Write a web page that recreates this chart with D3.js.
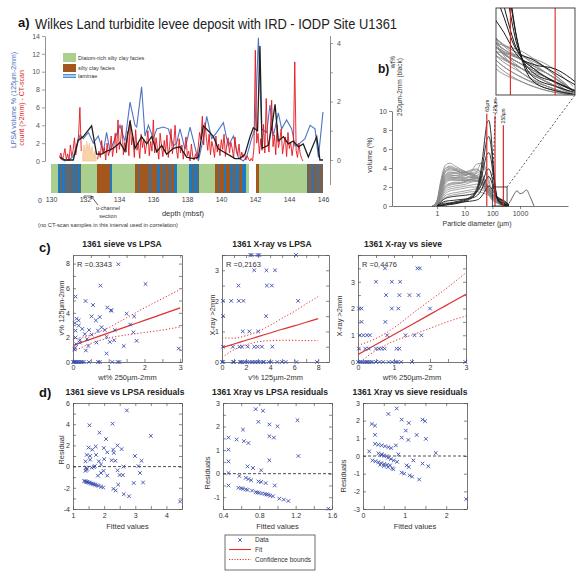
<!DOCTYPE html>
<html><head><meta charset="utf-8">
<script src="https://cdn.jsdelivr.net/npm/d3@7"></script>
<style>body{margin:0;background:#fff}svg{display:block;font-family:"Liberation Sans",Arial,Helvetica,sans-serif}</style>
</head><body><svg id="chart" width="587" height="573"></svg>
<script>
// ================= DATA =================
// ---- panel a: down-core series (depth in mbsf) ----
const blueDepth = [130.53,130.8,131.1,131.31,131.71,131.9,132.2,132.49,132.78,133.08,133.27,133.47,133.76,134.06,134.35,134.65,134.94,135.04,135.33,135.53,135.73,136.02,136.22,136.61,136.9,137.2,137.39,137.59,137.88,138.18,138.67,138.96,139.16,139.45,139.75,140.14,140.43,140.73,141.02,141.31,141.51,141.8,142.0,142.2,142.39,142.69,142.88,143.08,143.37,143.57,143.86,144.16,144.35,144.65,144.94,145.24,145.53,145.73,146.0];
const blueVal   = [0.3,0.0,0.2,0.5,2.9,2.5,3.2,2.0,2.8,1.0,3.2,1.1,2.5,4.0,2.2,6.6,4.0,3.8,8.3,2.8,4.0,2.5,3.6,3.8,3.6,1.7,2.0,3.6,1.3,3.8,0,2.5,5.0,2.5,3.2,4.3,1.7,2.8,0.4,0,0.5,2.5,3.6,13.8,3.6,3.2,6.3,2.8,5.4,3.6,4.6,3.6,1.7,2.0,2.5,4.0,3.6,0.4,5.5];

const blackDepth = [130.53,130.82,131.31,131.6,131.9,132.39,132.68,132.98,133.27,133.67,134.06,134.35,134.65,134.94,135.33,135.63,135.92,136.22,136.51,136.8,137.2,137.59,137.98,138.37,138.67,138.96,139.25,139.55,139.84,140.14,140.53,140.82,141.12,141.41,141.71,141.9,142.15,142.29,142.42,142.78,142.98,143.18,143.37,143.67,143.96,144.25,144.55,144.84,145.14,145.33,145.63,145.82,146.0];
const blackVal   = [0.1,0,0,0.67,0.8,1.17,0.2,0.2,0.3,0.4,0.6,0.3,1.33,0.4,0.8,0.55,0.8,0.28,0.5,0.2,0.4,0.45,0.1,0.05,0.1,1.17,1.0,0.8,0.38,0.28,0.15,0.05,0.05,0.2,0.8,1.1,1.0,3.9,0.4,0.5,1.1,1.9,0.65,0.8,0.55,0.65,0.45,0.55,0.1,0.38,0.8,0,0];

// CT-scan counts, sampled every 0.08 m
const ctStep = 0.08;
const redAStart = 130.5;
const redAVal = [0.4,0.9,0.1,0.6,1.4,0.2,0.8,0,1.8,0.5,1.2,2.6,0.7,1.9,2.8,6.0,1.1];
const peachStart = 131.86;   // u-channel section (not used in correlation)
const peachVal = [0.6,1.8,0.9,2.2,1.2,2.0,0.8,1.6,0.5,1.1,0.3];
const redBStart = 132.74;
const redBVal = [
 0.2,1.1,0.4,2.3,0.8,1.5,0.1,2.0,0.6,1.2,
 2.8,0.5,1.7,3.1,0.9,4.6,1.3,2.4,4.0,0.7,
 2.1,1.0,3.3,0.6,4.6,1.8,2.7,0.4,3.5,1.2,
 2.0,0.3,3.0,1.5,2.4,0.8,1.9,3.4,0.6,2.2,
 1.1,4.6,0.9,2.6,1.4,0.2,3.1,1.7,0.5,2.3,
 1.0,2.9,0.4,1.6,3.6,0.8,2.0,4.0,1.2,0.3,
 2.5,0.9,1.8,0.2,1.3,2.7,0.6,1.1,0.0,1.9,
 0.5,0.1,0.8,0.2,1.6,3.2,2.4,5.0,1.8,4.3,
 2.6,1.2,3.0,0.7,2.2,1.5,0.4,2.8,1.0,1.9,
 0.6,2.4,1.3,3.0,0.5,1.8,2.6,0.9,2.1,1.4,
 0.3,2.7,1.1,0.6,1.9,0.2,1.0,0.4,0.8,0.1,
 0.6,0.2,0.0,0.3,0.0,1.5,12.4,2.0,3.1,0.8,
 2.5,1.2,4.1,0.9,7.0,2.2,1.0,3.4,6.8,1.6,
 2.9,0.7,4.0,1.5,2.3,3.6,0.8,1.9,2.7,0.5,
 3.2,1.4,2.1,0.6,1.7,11.1,1.2,0.4,2.0,0.8,
 0.3,0.0];

// lithology (top depth of each unit, facies code)
const lithoTop = [130.00,130.39,130.51,130.61,130.75,130.84,130.94,131.04,131.14,131.29,131.43,131.57,131.69,131.78,132.71,133.49,133.59,134.96,135.16,135.25,135.75,135.88,136.24,136.39,136.59,136.73,136.92,137.06,137.22,137.41,138.14,138.29,138.39,138.59,138.73,139.67,139.86,139.96,140.16,140.31,140.55,140.71,140.84,141.04,141.24,141.49,141.63,142.08,142.22,145.06,145.16,145.29,145.39,145.55,145.65,145.75,145.88];
const lithoFacies = ["G","L","B","L","K","L","B","L","K","L","K","L","K","G","B","L","G","B","L","B","L","B","L","B","L","B","L","B","L","G","L","K","L","K","G","B","L","B","L","B","L","B","L","B","L","G","W","B","G","K","B","L","K","B","L","B","K"];
const lithoBottom = 146.0;
const depthTicks = [130,132,134,136,138,140,142,144,146];

// ---- panel b: grain-size distributions ----
const grainGray = [0.7,1,1.4,2,3,4.5,7,11,17,27,42,65,100,150,220,330];
const grayCurves = [
 [0,0.6,2.8,4.3,4.5,4.2,3.9,3.6,3.3,3.0,2.4,1.5,0.7,0.3,0.1,0],
 [0,0.5,2.5,3.9,4.1,3.9,3.7,3.5,3.3,3.0,2.5,1.7,0.9,0.5,0.2,0],
 [0,0.4,2.2,3.5,3.8,3.7,3.6,3.5,3.4,3.2,2.7,1.9,1.0,0.6,0.3,0.05],
 [0,0.4,2.0,3.2,3.5,3.5,3.5,3.6,3.8,3.9,3.4,2.2,1.1,0.7,0.4,0.1],
 [0,0.3,1.8,3.0,3.3,3.2,3.1,3.2,3.6,4.4,4.5,3.0,1.2,0.5,0.2,0],
 [0,0.3,1.6,2.8,3.1,3.0,2.9,2.9,3.0,3.0,2.7,2.0,1.2,0.8,0.4,0.1],
 [0,0.3,1.5,2.6,2.9,2.9,2.8,2.8,2.8,2.7,2.4,1.8,1.0,0.6,0.3,0],
 [0,0.2,1.3,2.3,2.7,2.7,2.7,2.7,2.8,2.9,2.6,1.9,1.1,0.7,0.5,0.1],
 [0,0.2,1.2,2.1,2.4,2.5,2.5,2.6,2.8,3.0,2.8,2.1,1.2,0.8,0.5,0.1],
 [0,0.2,1.0,1.9,2.2,2.3,2.4,2.6,2.9,3.6,4.6,3.5,1.3,0.6,0.3,0],
 [0,0.2,0.9,1.7,2.0,2.1,2.2,2.3,2.5,2.6,2.5,2.0,1.3,0.9,0.6,0.1],
 [0,0.1,0.8,1.5,1.8,1.9,2.0,2.1,2.2,2.3,2.2,1.8,1.1,0.7,0.4,0],
 [0,0.1,0.7,1.3,1.6,1.7,1.8,1.9,2.0,2.0,1.9,1.6,1.2,1.0,0.6,0.1],
 [0,0.3,2.4,3.7,4.0,3.8,3.5,3.2,3.0,2.7,2.2,1.4,0.6,0.3,0.1,0],
 [0,0.1,0.6,1.1,1.3,1.4,1.5,1.6,1.7,1.8,1.7,1.5,1.1,0.8,0.5,0.1],
 [0,0.4,2.1,3.3,3.6,3.5,3.3,3.3,3.5,3.6,3.2,2.3,1.3,0.9,0.5,0.1],
 [0,0.2,1.4,2.5,2.8,2.8,2.7,2.7,2.7,2.6,2.3,1.7,1.0,0.9,0.7,0.2],
 [0,0.3,1.7,2.9,3.2,3.2,3.2,3.3,3.4,3.4,3.0,2.2,1.3,0.8,0.4,0],
 [0,0.5,2.6,4.0,4.2,4.0,3.8,3.6,3.4,3.1,2.6,1.6,0.8,0.4,0.15,0],
 [0,0.35,1.9,3.1,3.4,3.4,3.4,3.5,3.7,3.8,3.3,2.1,1.0,0.6,0.3,0.05],
 [0,0.25,1.5,2.7,3.0,3.0,3.0,3.0,3.1,3.2,2.9,2.1,1.1,0.7,0.4,0.1],
 [0,0.15,1.1,2.0,2.3,2.4,2.4,2.5,2.6,2.7,2.5,1.9,1.1,0.8,0.5,0.1],
 [0,0.1,0.5,0.9,1.1,1.2,1.3,1.4,1.5,1.5,1.4,1.2,0.9,0.6,0.4,0.1],
 [0,0.45,2.3,3.6,3.9,3.8,3.6,3.4,3.2,2.9,2.4,1.6,0.8,0.4,0.2,0]
];
const grainBlack = [1,2,4,8,15,25,35,45,55,65,75,90,110,140,180,250,400];
const blackCurves = [
 [0,0.2,0.4,0.6,0.9,1.6,3.0,5.2,7.4,8.8,9.0,7.5,4.0,1.2,0.3,0.1,0],
 [0,0.1,0.3,0.5,0.8,1.4,2.6,4.3,6.0,7.1,7.3,6.3,3.6,1.2,0.4,0.2,0],
 [0,0.1,0.2,0.4,0.7,1.3,2.3,3.6,4.8,5.5,5.6,4.9,3.0,1.1,0.5,0.3,0],
 [0,0.8,1.0,1.1,1.2,1.4,1.9,2.6,3.3,3.8,3.9,3.4,2.2,1.0,0.6,0.3,0],
 [0,0.5,0.6,0.7,0.8,1.0,1.4,2.0,2.6,3.0,3.1,2.7,1.9,1.0,0.8,0.5,0.1],
 [0,0.3,0.3,0.4,0.5,0.6,0.8,1.2,1.6,2.0,2.1,1.9,1.5,0.9,0.7,0.6,0.1]
];
const grainCoarse = [330,450,600,780,1000,1300,1700,2300,3200];
const coarseCurve = [0,0.5,1.2,1.6,1.3,1.4,1.7,1.0,0];
const sieveLimits = [63,125,250];
const sieveLabels = ["63µm","125µm","250µm"];
const sieveTop = [9.7,9.5,8.5];

// ---- panel c: regressions ----
const c1X = [1.27,0.77,2.03,0.07,0.35,0.56,0.96,1.06,1.08,1.5,1.71,0.52,0.75,0.1,0.16,0.64,0.16,0.05,1.6,0.8,0.26,0.45,0.89,0.07,0.7,1.17,1.69,0.33,0.52,0.94,0.07,0.19,0.39,1.15,1.03,1.78,0.19,0.66,0.09,0.43,1.42,0.06,0.04,0.36,0.94,2.96,0,0.03,0.06,0.09,0.12,0.15,0.18,0.22,0.26,0.3,0.45,0.7,0.75,1.1,1.25,1.3];
const c1Y = [7.95,6.21,6.34,5.32,4.96,4.63,4.43,4.21,4.16,3.93,3.71,3.71,3.66,3.52,3.38,3.38,2.96,3.16,3.05,2.83,2.69,2.6,2.6,2.55,2.55,2.6,2.41,2.27,2.22,2.05,1.99,1.77,1.86,1.77,1.63,1.72,1.58,1.58,1.44,1.3,1.3,1.16,1.02,0.94,0.69,1.1,0,0,0,0,0,0,0,0,0,0,0,0,0,0,0,0];
const c1FitX = [0,0.5,1,1.5,2,2.5,3];
const c1Fit = [1.35,1.86,2.37,2.88,3.38,3.89,4.40];
const c1Up  = [1.85,2.2,2.8,3.6,4.4,5.15,5.9];
const c1Lo  = [0.85,1.5,1.95,2.2,2.4,2.6,2.85];

const c2X = [2.36,2.47,2.96,3.1,6.16,2.68,3.7,4.41,1.37,3.73,4.14,0.08,0.77,1.4,1.78,6.33,0.08,3.67,1.73,2.27,3.01,0.08,0.9,1.45,1.67,2.14,2.68,2.96,3.32,4.19,0,0.1,0.9,1.0,1.5,1.6,1.7,1.9,2.1,2.3,2.5,2.7,2.8,3.0,3.2,3.4,3.5,3.9,4.1,4.6,5.0,5.3,6.2,7.9];
const c2Y = [3.5,3.5,3.5,3.5,3.5,3,3,3,2.5,2.5,2.5,2,2,2,2,2,1.5,1.5,1,1,1,0.5,0.5,0.5,0.5,0.5,0.5,0.5,0.5,0.5,0,0,0,0,0,0,0,0,0,0,0,0,0,0,0,0,0,0,0,0,0,0,0,0];
const c2FitX = [0,1,2,3,4,5,6,7,8];
const c2Fit = [0.47,0.59,0.71,0.83,0.95,1.07,1.18,1.30,1.42];
const c2Up  = [0.79,0.78,0.86,1.0,1.2,1.43,1.65,1.9,2.14];
const c2Lo  = [0.15,0.4,0.56,0.66,0.7,0.71,0.71,0.7,0.7];

const c3X = [0.75,1.65,1.72,0.5,0.94,1.17,0.78,1.15,1.43,1.68,0.03,0.1,0.94,1.12,2.0,0.1,0.76,0.05,0.15,0.25,0.33,0.81,1.32,1.57,1.76,0.02,0.2,0.3,0.5,0.58,0.66,0.74,1.07,1.15,0,0.05,0.1,0.15,0.2,0.25,0.3,0.35,0.4,0.5,0.6,0.7,0.85,0.95,1.05,1.1,1.2,1.5,2.98];
const c3Y = [3.5,3.5,3.5,3,3,3,2.5,2.5,2.5,2.5,2,2,2,2,2,1.5,1.5,1,1,1,1,1,1,1,1,0.5,0.5,0.5,0.5,0.5,0.5,0.5,0.5,0.5,0,0,0,0,0,0,0,0,0,0,0,0,0,0,0,0,0,0,0];
const c3FitX = [0,0.5,1,1.5,2,2.5,3];
const c3Fit = [0.28,0.655,1.03,1.405,1.78,2.155,2.53];
const c3Up  = [0.62,0.88,1.28,1.8,2.3,2.8,3.34];
const c3Lo  = [-0.06,0.43,0.78,1.01,1.26,1.51,1.72];

// ---- panel d: residuals ----
const d1X = [2.73,1.53,2.27,1.85,3.5,2.06,2.43,1.5,1.73,1.62,1.99,2.29,2.56,2.1,2.31,1.44,1.55,1.74,2.99,3.2,2.24,2.36,2.0,1.83,1.55,1.4,1.9,1.7,1.42,1.36,1.39,1.42,1.45,1.48,1.52,1.56,1.6,1.64,1.68,1.72,1.77,1.82,1.9,1.97,1.45,1.4,1.43,1.6,1.67,1.9,1.98,2.1,1.8,2.43,2.5,2.6,2.3,2.37,2.45,2.95,2.63,2.8,3.25,3.15,3.1,2.62,4.44];
const d1Y = [5.3,3.9,4.05,3.2,2.9,2.6,2.0,1.8,1.9,1.6,1.75,1.6,1.65,1.35,1.3,1.1,1.0,1.1,1.0,0.55,0.6,0.55,0.7,0.5,0.65,0.5,0.2,0.05,-0.1,-1.36,-1.39,-1.42,-1.45,-1.48,-1.52,-1.56,-1.6,-1.64,-1.68,-1.72,-1.77,-1.82,-1.9,-1.97,-0.2,-0.4,-0.3,-0.1,-0.05,-0.6,-0.4,-0.85,-0.85,-0.35,-0.8,-0.8,-2.1,-2.25,-1.7,-1.55,-2.6,-2.8,-1.5,-0.6,0.05,0.0,-3.3];
const d2X = [0.76,0.84,0.79,0.62,0.91,1.0,1.22,0.46,0.55,0.63,0.68,0.91,0.96,0.46,0.46,0.91,1.23,0.67,0.73,0.82,0.46,0.58,0.65,0.68,0.71,0.79,0.82,0.87,0.97,0.46,0.57,0.6,0.62,0.65,0.67,0.72,0.76,0.78,0.8,0.83,0.86,0.88,0.9,0.92,0.95,1.02,1.07,1.12,1.56];
const d2Y = [2.74,2.67,2.2,1.87,2.09,2.01,2.27,1.53,1.45,1.38,1.3,1.59,1.53,1.02,0.52,0.57,0.75,0.31,0.24,0.14,0.03,-0.1,-0.18,-0.23,-0.28,-0.33,-0.35,-0.4,-0.5,-0.5,-0.6,-0.62,-0.64,-0.67,-0.69,-0.72,-0.78,-0.8,-0.82,-0.84,-0.86,-0.88,-0.9,-0.93,-0.96,-1.06,-1.1,-1.16,-1.49];
const d3X = [0.21,0.29,0.29,0.15,0.29,0.37,0.45,0.53,0.61,0.68,0.37,0.45,0.57,0.61,0.81,0.93,1.1,1.43,1.49,1.03,1.29,0.93,1.09,1.51,0.79,0.85,1.75,0.45,0.5,0.6,0.67,0.74,0.82,0.23,0.3,0.37,0.44,0.51,0.58,0.65,0.41,0.5,0.6,0.7,0.73,0.93,0.99,1.05,1.1,1.21,1.12,1.18,1.35,1.43,1.57,2.48];
const d3Y = [1.81,1.72,1.2,0.26,0.69,0.64,0.6,0.55,0.5,0.45,0.15,0.1,0.0,2.38,2.69,2.06,1.87,2.06,1.97,1.44,1.19,1.04,0.91,0.97,0.6,0.09,0.17,0.05,0.02,-0.1,-0.17,-0.25,-0.33,-0.25,-0.3,-0.35,-0.4,-0.45,-0.5,-0.53,-0.5,-0.57,-0.63,-0.7,-0.75,-0.94,-1.0,-0.53,-0.62,-0.25,-1.1,-1.17,-1.33,-0.43,-0.58,-2.44];

// ================= DRAWING =================
const svg = d3.select("#chart");
svg.append("rect").attr("width",587).attr("height",573).attr("fill","#fff");
const defs = svg.append("defs");

function txt(x,y,s,o={}){
  const t = svg.append("text").attr("x",x).attr("y",y).text(s)
    .attr("font-size",o.size||7).attr("fill",o.fill||"#222")
    .attr("text-anchor",o.anchor||"start");
  if(o.weight) t.attr("font-weight",o.weight);
  if(o.rot) t.attr("transform",`rotate(${o.rot},${x},${y})`);
  if(o.len) t.attr("textLength",o.len).attr("lengthAdjust","spacingAndGlyphs");
  return t;
}
function styleAxis(g,size,col,lineCol){
  g.attr("font-family",null).attr("font-size",null);
  g.selectAll("text").attr("font-size",size).attr("fill",col);
  g.selectAll("line").attr("stroke",lineCol||col).attr("stroke-width",0.7);
  g.selectAll("path.domain").attr("stroke",lineCol||col).attr("stroke-width",0.8);
}

// ---------- panel a ----------
const aX = d3.scaleLinear().domain([130,146]).range([51,323]);
const aYL = d3.scaleLinear().domain([0,14]).range([161,36]);
const aYR = d3.scaleLinear().domain([0,4]).range([160,43]);

txt(18,27,"a)",{size:13,weight:"bold",fill:"#111"});
txt(35,29,"Wilkes Land turbidite levee deposit with IRD  - IODP Site U1361",{size:14.5,fill:"#222",len:362});

const lithoColor = {G:"#a9d08f",B:"#a4571d",L:"#1f78c2",K:"#5c6770",W:"#ffffff"};
svg.append("g").selectAll("rect").data(lithoTop).join("rect")
  .attr("x",d=>aX(d)).attr("y",164)
  .attr("width",(d,i)=>aX(i<lithoTop.length-1?lithoTop[i+1]:lithoBottom)-aX(d))
  .attr("height",29).attr("fill",(d,i)=>lithoColor[lithoFacies[i]])
  .attr("shape-rendering","crispEdges");

const lineA = d3.line().x(d=>aX(d[0])).y(d=>aYL(d[1]));
const peachPts = peachVal.map((v,i)=>[peachStart+i*ctStep,v]);
svg.append("path").attr("d",d3.area().x(d=>aX(d[0])).y0(aYL(0)).y1(d=>aYL(d[1]))(peachPts))
  .attr("fill","#f8d2aa").attr("stroke","#f5c79a").attr("stroke-width",0.8);
svg.append("path").attr("d",lineA(blueDepth.map((d,i)=>[d,blueVal[i]])))
  .attr("fill","none").attr("stroke","#4f74c6").attr("stroke-width",1.1);
svg.append("path").attr("d",lineA(redAVal.map((v,i)=>[redAStart+i*ctStep,v])))
  .attr("fill","none").attr("stroke","#e5141c").attr("stroke-width",0.9);
svg.append("path").attr("d",lineA(redBVal.map((v,i)=>[redBStart+i*ctStep,v])))
  .attr("fill","none").attr("stroke","#e5141c").attr("stroke-width",0.9);
svg.append("path").attr("d",d3.line().x(d=>aX(d[0])).y(d=>aYR(d[1]))(blackDepth.map((d,i)=>[d,blackVal[i]])))
  .attr("fill","none").attr("stroke","#1e1e1e").attr("stroke-width",1.3);

const gAL = svg.append("g").attr("transform","translate(45,0)")
  .call(d3.axisLeft(aYL).tickValues([0,2,4,6,8,10,12,14]).tickSize(3).tickSizeOuter(0).tickPadding(2));
styleAxis(gAL,7,"#555","#777");
const gAR = svg.append("g").attr("transform","translate(330,0)")
  .call(d3.axisRight(aYR).tickValues([0,1,2,3,4]).tickFormat(d=>d%2?"":d).tickSize(3).tickSizeOuter(0).tickPadding(4));
styleAxis(gAR,7,"#555","#777");
svg.append("line").attr("x1",330.5).attr("x2",330.5).attr("y1",36).attr("y2",185).attr("stroke","#777").attr("stroke-width",0.8);
const gAB = svg.append("g").attr("transform","translate(0,194)")
  .call(d3.axisBottom(aX).tickValues(depthTicks).tickSize(0).tickPadding(3));
gAB.select("path.domain").remove();
styleAxis(gAB,7,"#444");
txt(40,203,"0",{size:7,fill:"#444",anchor:"middle"});
txt(183,216,"depth (mbsf)",{size:7.5,fill:"#333",anchor:"middle"});
txt(108,210,"u-channel",{size:5.5,fill:"#333",anchor:"middle"});
txt(108,218,"section",{size:5.5,fill:"#333",anchor:"middle"});
txt(38,227,"(no CT-scan samples in this interval used in correlation)",{size:5.2,fill:"#333",len:140});
svg.append("path").attr("d","M84,199V196H91").attr("fill","none").attr("stroke","#333").attr("stroke-width",0.7);
svg.append("path").attr("d","M98,205L91,196M91,196l0.6,3.2M91,196l3,1.2").attr("fill","none").attr("stroke","#333").attr("stroke-width",0.8);

// axis titles panel a
txt(16,100,"LPSA volume % (125µm-2mm)",{size:7,fill:"#4a6fc2",anchor:"middle",rot:-90});
txt(24,108,"count (>2mm) - CT-scan",{size:7,fill:"#e01a1a",anchor:"middle",rot:-90});
txt(395,62,"wt%",{size:6.5,fill:"#333",anchor:"middle",rot:-90});
txt(402,87,"250µm-2mm (black)",{size:6.5,fill:"#333",anchor:"middle",rot:-90});

// legend panel a
svg.append("rect").attr("x",63).attr("y",53).attr("width",13).attr("height",9).attr("fill","#a9d08f");
svg.append("rect").attr("x",63).attr("y",64).attr("width",13).attr("height",8).attr("fill","#a4571d");
svg.append("line").attr("x1",63).attr("x2",76).attr("y1",74.8).attr("y2",74.8).attr("stroke","#1f78c2").attr("stroke-width",1.2);
svg.append("line").attr("x1",63).attr("x2",76).attr("y1",77.2).attr("y2",77.2).attr("stroke","#1f78c2").attr("stroke-width",1.2);
txt(78,60,"Diatom-rich silty clay facies",{size:5.5,fill:"#333"});
txt(78,70,"silty clay facies",{size:5.5,fill:"#333"});
txt(78,78,"laminae",{size:5.5,fill:"#333"});

// ---------- panel b ----------
const bX = d3.scaleLog().domain([0.0237,54200]).range([392,568]);
const bY = d3.scaleLinear().domain([0,10]).range([206,111]);
txt(378,73,"b)",{size:12,weight:"bold",fill:"#111"});
const lineB = d3.line().x(d=>bX(d[0])).y(d=>bY(d[1])).curve(d3.curveMonotoneX);
const gB = svg.append("g");
gB.selectAll("path.g").data(grayCurves).join("path").attr("class","g")
  .attr("d",c=>lineB(c.map((v,i)=>[grainGray[i],v])))
  .attr("fill","none").attr("stroke","#8a8a8a").attr("stroke-width",0.8);
gB.append("path").attr("d",lineB(coarseCurve.map((v,i)=>[grainCoarse[i],v])))
  .attr("fill","none").attr("stroke","#555").attr("stroke-width",0.9);
gB.selectAll("path.k").data(blackCurves).join("path").attr("class","k")
  .attr("d",c=>lineB(c.map((v,i)=>[grainBlack[i],v])))
  .attr("fill","none").attr("stroke","#1a1a1a").attr("stroke-width",0.9);
sieveLimits.forEach((s,i)=>{
  gB.append("line").attr("x1",bX(s)).attr("x2",bX(s)).attr("y1",bY(0)).attr("y2",bY(sieveTop[i]))
    .attr("stroke","#d92626").attr("stroke-width",1.2);
  txt(bX(s)+1.8,bY(sieveTop[i])-2,sieveLabels[i],{size:4.8,fill:"#222",rot:-90});
});
const gBY = svg.append("g").attr("transform","translate(392,0)")
  .call(d3.axisLeft(bY).tickValues([0,2,4,6,8,10]).tickSize(3).tickSizeOuter(0).tickPadding(2));
styleAxis(gBY,7,"#444","#555");
const gBX = svg.append("g").attr("transform","translate(0,206)")
  .call(d3.axisBottom(bX).tickValues([1,10,100,1000]).tickFormat(d3.format("d")).tickSize(3).tickSizeOuter(0).tickPadding(2));
styleAxis(gBX,7,"#444","#555");
txt(372,155,"volume (%)",{size:7,fill:"#333",anchor:"middle",rot:-90});
txt(477,226,"Particle diameter (µm)",{size:7,fill:"#333",anchor:"middle"});

// zoom box + inset
const iX = d3.scaleLog().domain([100,340]).range([496,575]);
const iY = d3.scaleLinear().domain([0,2]).range([95,8]);
svg.append("rect").attr("x",bX(100)).attr("y",bY(2)).attr("width",bX(340)-bX(100)).attr("height",bY(0)-bY(2))
  .attr("fill","none").attr("stroke","#222").attr("stroke-width",0.8);
svg.append("line").attr("x1",bX(100)).attr("y1",bY(2)).attr("x2",iX(100)).attr("y2",iY(0))
  .attr("stroke","#333").attr("stroke-width",0.8).attr("stroke-dasharray","2,2");
svg.append("line").attr("x1",bX(340)).attr("y1",bY(2)).attr("x2",iX(340)).attr("y2",iY(0))
  .attr("stroke","#333").attr("stroke-width",0.8).attr("stroke-dasharray","2,2");
defs.append("clipPath").attr("id","inclip").append("rect")
  .attr("x",496).attr("y",8).attr("width",79).attr("height",87);
svg.append("rect").attr("x",496).attr("y",8).attr("width",79).attr("height",87).attr("fill","#fff");
const gI = svg.append("g").attr("clip-path","url(#inclip)");
const lineI = d3.line().x(d=>iX(d[0])).y(d=>iY(d[1])).curve(d3.curveMonotoneX);
gI.selectAll("path.g").data(grayCurves).join("path").attr("class","g")
  .attr("d",c=>lineI(c.map((v,i)=>[grainGray[i],v])))
  .attr("fill","none").attr("stroke","#8a8a8a").attr("stroke-width",0.9);
gI.selectAll("path.k").data(blackCurves).join("path").attr("class","k")
  .attr("d",c=>lineI(c.map((v,i)=>[grainBlack[i],v])))
  .attr("fill","none").attr("stroke","#1a1a1a").attr("stroke-width",1);
[125,250].forEach(s=>gI.append("line").attr("x1",iX(s)).attr("x2",iX(s)).attr("y1",8).attr("y2",95)
  .attr("stroke","#d92626").attr("stroke-width",1.1));
svg.append("rect").attr("x",496).attr("y",8).attr("width",79).attr("height",87)
  .attr("fill","none").attr("stroke","#333").attr("stroke-width",0.9);

// ---------- panels c / d ----------
const fmt = v => String(+v.toFixed(2));
function scatterPanel(cfg){
  const x = d3.scaleLinear().domain(cfg.xd).range([cfg.l,cfg.r]);
  const y = d3.scaleLinear().domain(cfg.yd).range([cfg.b,cfg.t]);
  const g = svg.append("g");
  const lab = arr => v => arr.some(a=>Math.abs(a-v)<1e-9) ? fmt(v) : "";
  const axes = [
    g.append("g").attr("transform",`translate(0,${cfg.b})`).call(d3.axisBottom(x).tickValues(cfg.xt).tickFormat(lab(cfg.xl)).tickSize(-3).tickSizeOuter(0).tickPadding(cfg.pad||3)),
    g.append("g").attr("transform",`translate(0,${cfg.t})`).call(d3.axisTop(x).tickValues(cfg.xt).tickFormat("").tickSize(-3).tickSizeOuter(0)),
    g.append("g").attr("transform",`translate(${cfg.l},0)`).call(d3.axisLeft(y).tickValues(cfg.yt).tickFormat(lab(cfg.yl)).tickSize(-3).tickSizeOuter(0).tickPadding(3)),
    g.append("g").attr("transform",`translate(${cfg.r},0)`).call(d3.axisRight(y).tickValues(cfg.yt).tickFormat("").tickSize(-3).tickSizeOuter(0))
  ];
  axes.forEach(a=>styleAxis(a,7,"#333","#555"));
  if(cfg.zero){
    g.append("line").attr("x1",cfg.l).attr("x2",cfg.r).attr("y1",y(0)).attr("y2",y(0))
      .attr("stroke","#222").attr("stroke-width",0.8).attr("stroke-dasharray","3,2");
  }
  if(cfg.fx){
    const ln = d3.line().x(d=>x(d[0])).y(d=>y(d[1])).curve(d3.curveMonotoneX);
    const clipId = "clip"+cfg.id;
    defs.append("clipPath").attr("id",clipId).append("rect")
      .attr("x",cfg.l).attr("y",cfg.t).attr("width",cfg.r-cfg.l).attr("height",cfg.b-cfg.t);
    const gc = g.append("g").attr("clip-path",`url(#${clipId})`);
    gc.append("path").attr("d",ln(cfg.fx.map((v,i)=>[v,cfg.fit[i]]))).attr("fill","none").attr("stroke","#e03030").attr("stroke-width",1.2);
    [cfg.up,cfg.lo].forEach(arr=>gc.append("path").attr("d",ln(cfg.fx.map((v,i)=>[v,arr[i]])))
      .attr("fill","none").attr("stroke","#e03030").attr("stroke-width",1).attr("stroke-dasharray","1.2,2"));
  }
  g.selectAll("path.pt").data(cfg.px.map((v,i)=>[v,cfg.py[i]])).join("path").attr("class","pt")
    .attr("d","M-1.8,-1.8L1.8,1.8M-1.8,1.8L1.8,-1.8")
    .attr("transform",d=>`translate(${x(d[0])},${y(d[1])})`)
    .attr("stroke","#3a4cae").attr("stroke-width",0.9).attr("fill","none");
  txt(cfg.tx,cfg.ty,cfg.title,{size:8.5,weight:"bold",fill:"#222",anchor:"middle"});
  txt((cfg.l+cfg.r)/2,cfg.xly,cfg.xlab,{size:7.5,fill:"#333",anchor:"middle"});
  txt(cfg.ylx,cfg.yly,cfg.ylab,{size:7.5,fill:"#333",anchor:"middle",rot:-90});
  if(cfg.r2) txt(cfg.l+4,cfg.t+12,cfg.r2,{size:7.5,fill:"#333"});
}

txt(39,252,"c)",{size:13,weight:"bold",fill:"#111"});
txt(39,397,"d)",{size:13,weight:"bold",fill:"#111"});

scatterPanel({id:"c1",l:73,r:182,t:255,b:362,xd:[0,3.05],yd:[0,8.7],
  xt:[0,0.5,1,1.5,2,2.5,3],xl:[0,1,2,3],yt:[0,1,2,3,4,5,6,7,8],yl:[0,2,4,6,8],
  px:c1X,py:c1Y,fx:c1FitX,fit:c1Fit,up:c1Up,lo:c1Lo,
  title:"1361 sieve vs LPSA",tx:122,ty:247,xlab:"wt% 250µm-2mm",xly:380,ylab:"v% 125µm-2mm",ylx:64,yly:308,r2:"R =0.3343"});
scatterPanel({id:"c2",l:222,r:329,t:255,b:362,xd:[0,8.9],yd:[0,3.5],
  xt:[0,1,2,3,4,5,6,7,8],xl:[0,2,4,6,8],yt:[0,0.5,1,1.5,2,2.5,3,3.5],yl:[0,1,2,3],
  px:c2X,py:c2Y,fx:c2FitX,fit:c2Fit,up:c2Up,lo:c2Lo,
  title:"1361 X-ray vs LPSA",tx:272,ty:247,xlab:"v% 125µm-2mm",xly:380,ylab:"X-ray >2mm",ylx:215,yly:315,r2:"R =0,2163"});
scatterPanel({id:"c3",l:358,r:466,t:255,b:362,xd:[0,3],yd:[0,4],
  xt:[0,0.5,1,1.5,2,2.5,3],xl:[0,1,2,3],yt:[0,0.5,1,1.5,2,2.5,3,3.5,4],yl:[0,1,2,3],
  px:c3X,py:c3Y,fx:c3FitX,fit:c3Fit,up:c3Up,lo:c3Lo,
  title:"1361 X-ray vs sieve",tx:403,ty:247,xlab:"wt% 250µm-2mm",xly:380,ylab:"X-ray >2mm",ylx:342,yly:316,r2:"R =0,4476"});

scatterPanel({id:"d1",l:73,r:182,t:403,b:509,xd:[1,4.5],yd:[-4,6],pad:4,
  xt:[1,1.5,2,2.5,3,3.5,4,4.5],xl:[1,2,3,4],yt:[-4,-3,-2,-1,0,1,2,3,4,5,6],yl:[-4,-2,0,2,4,6],
  px:d1X,py:d1Y,zero:true,
  title:"1361 sieve vs LPSA residuals",tx:125,ty:395,xlab:"Fitted values",xly:529,ylab:"Residual",ylx:64,yly:450});
scatterPanel({id:"d2",l:223,r:332,t:403,b:509,xd:[0.4,1.6],yd:[-1.5,3],pad:4,
  xt:[0.4,0.6,0.8,1.0,1.2,1.4,1.6],xl:[0.4,0.8,1.2,1.6],yt:[-1.5,-1,-0.5,0,0.5,1,1.5,2,2.5,3],yl:[-1,0,1,2,3],
  px:d2X,py:d2Y,zero:true,
  title:"1361 Xray vs LPSA residuals",tx:270,ty:395,xlab:"Fitted values",xly:529,ylab:"Residuals",ylx:210,yly:473});
scatterPanel({id:"d3",l:363,r:467,t:403,b:509,xd:[0,2.5],yd:[-3,3],pad:4,
  xt:[0,0.5,1,1.5,2,2.5],xl:[0,1,2],yt:[-3,-2,-1,0,1,2,3],yl:[-3,-2,-1,0,1,2,3],
  px:d3X,py:d3Y,zero:true,
  title:"1361 Xray vs sieve residuals",tx:410,ty:395,xlab:"Fitted values",xly:529,ylab:"Residuals",ylx:346,yly:476});

// legend (bottom)
svg.append("rect").attr("x",225).attr("y",535).attr("width",90).attr("height",35)
  .attr("fill","#fff").attr("stroke","#333").attr("stroke-width",0.7);
svg.append("path").attr("d","M-1.8,-1.8L1.8,1.8M-1.8,1.8L1.8,-1.8").attr("transform","translate(240,540)")
  .attr("stroke","#3a4cae").attr("stroke-width",0.9);
svg.append("line").attr("x1",229).attr("x2",251).attr("y1",549.5).attr("y2",549.5).attr("stroke","#e03030").attr("stroke-width",1.1);
svg.append("line").attr("x1",229).attr("x2",251).attr("y1",559.5).attr("y2",559.5).attr("stroke","#e03030").attr("stroke-width",1).attr("stroke-dasharray","1.2,1.5");
txt(255,542,"Data",{size:6.5,fill:"#333"});
txt(255,552,"Fit",{size:6.5,fill:"#333"});
txt(255,562,"Confidence bounds",{size:6.5,fill:"#333"});
</script></body></html>
